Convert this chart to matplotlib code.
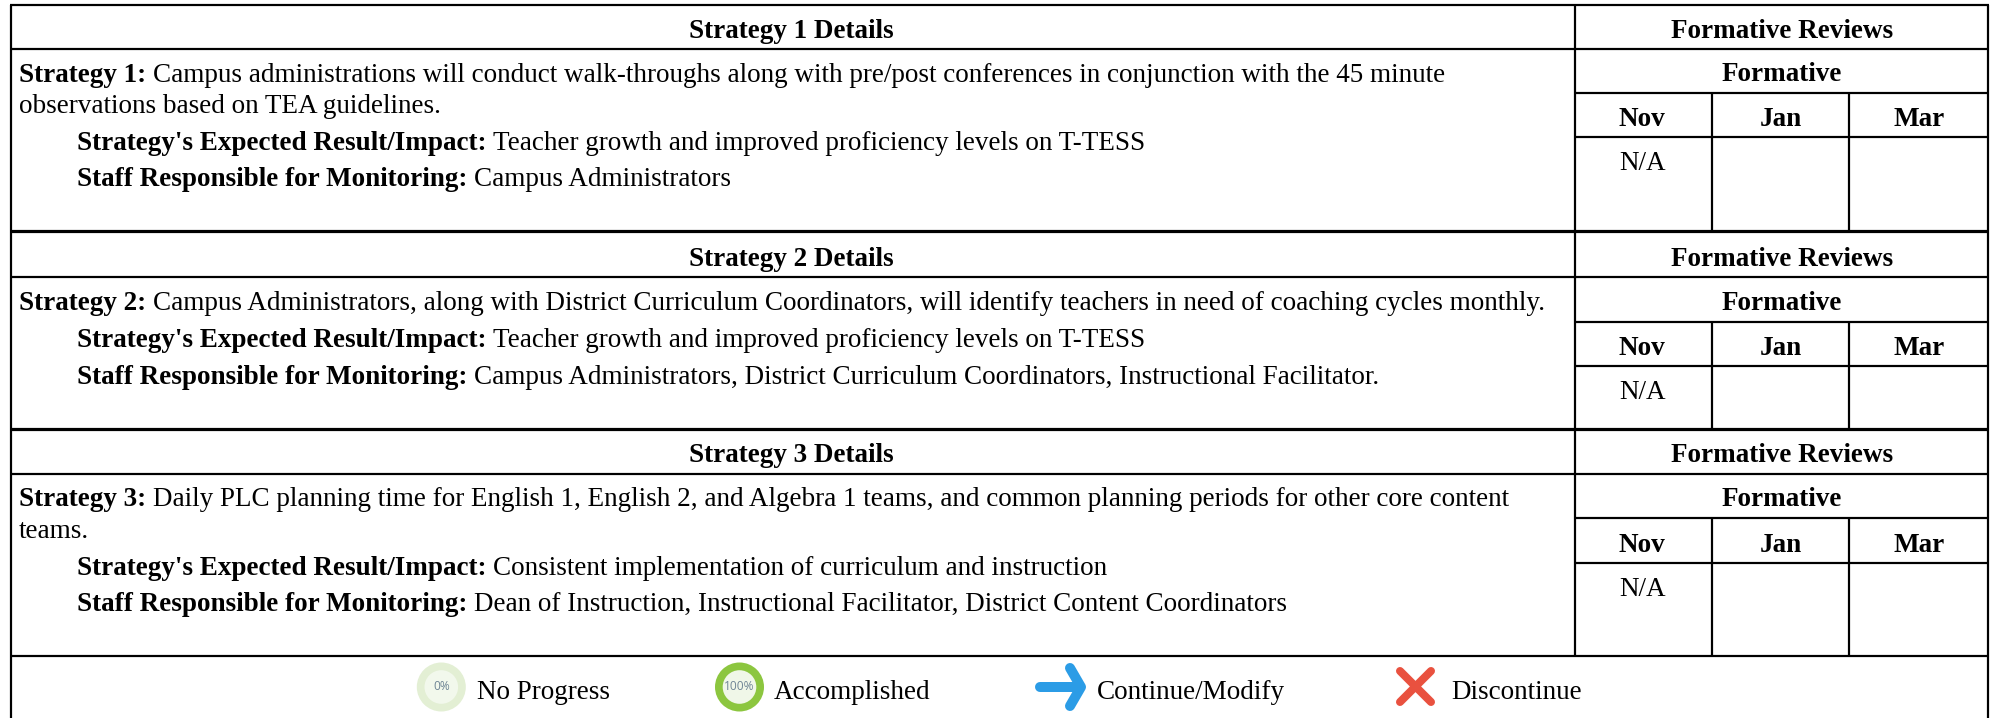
import matplotlib
matplotlib.use("Agg")
import matplotlib.pyplot as plt
from matplotlib.patches import Circle

W, H = 1993, 718
DPI = 100
FONT = "Liberation Serif"
FS = 19.5

# ---- content ----
review_months = ["Nov", "Jan", "Mar"]
review_values = ["N/A", "", ""]
strategy_titles = ["Strategy 1 Details", "Strategy 2 Details", "Strategy 3 Details"]
review_title = "Formative Reviews"
sub_title = "Formative"
strategy_labels = ["Strategy 1:", "Strategy 2:", "Strategy 3:"]
strategy_first_lines = [
    "Campus administrations will conduct walk-throughs along with pre/post conferences in conjunction with the 45 minute",
    "Campus Administrators, along with District Curriculum Coordinators, will identify teachers in need of coaching cycles monthly.",
    "Daily PLC planning time for English 1, English 2, and Algebra 1 teams, and common planning periods for other core content",
]
strategy_second_lines = ["observations based on TEA guidelines.", "", "teams."]
impact_label = "Strategy's Expected Result/Impact:"
impact_values = [
    "Teacher growth and improved proficiency levels on T-TESS",
    "Teacher growth and improved proficiency levels on T-TESS",
    "Consistent implementation of curriculum and instruction",
]
staff_label = "Staff Responsible for Monitoring:"
staff_values = [
    "Campus Administrators",
    "Campus Administrators, District Curriculum Coordinators, Instructional Facilitator.",
    "Dean of Instruction, Instructional Facilitator, District Content Coordinators",
]
legend_labels = ["No Progress", "Accomplished", "Continue/Modify", "Discontinue"]

# ---- layout (pixels) ----
X_LEFT, X_SPLIT, X_NOV, X_JAN, X_RIGHT = 11.3, 1575, 1712, 1849, 1988.3
Y_TOP = 4.7
block_rows = [(4.7, 49.3, 92.8, 137.3, 231.3), (231.3, 277.3, 321.7, 366.2, 428.7), (428.7, 474, 518.2, 563, 655.8)]
X_TEXT, X_INDENT, X_NA = 19, 76.7, 1619
TEXT_SHIFT = 0.8

fig = plt.figure(figsize=(W / DPI, H / DPI), dpi=DPI, facecolor="white")
ax = fig.add_axes([0, 0, 1, 1])
ax.set_xlim(0, W)
ax.set_ylim(H, 0)
ax.axis("off")
renderer = fig.canvas.get_renderer()


def px(w):
    return w * 72 / DPI


def hline(y, x0, x1, w=2.2):
    ax.plot([x0, x1], [y, y], color="black", lw=px(w), solid_capstyle="butt")


def vline(x, y0, y1, w=2.2):
    ax.plot([x, x], [y0, y1], color="black", lw=px(w), solid_capstyle="butt")


def txt(x, y, s, bold=False, ha="left"):
    return ax.text(x, y + TEXT_SHIFT, s, family=FONT, fontsize=FS, color="black",
                   weight="bold" if bold else "normal", ha=ha, va="baseline")


def mixed(x, y, label, value):
    t = txt(x, y, label, bold=True)
    x1 = t.get_window_extent(renderer).x1
    txt(x1 + 6.5, y, value)


xc_left = (X_LEFT + X_SPLIT) / 2 - 2
xc_right = (X_SPLIT + X_RIGHT) / 2
month_edges = [X_SPLIT, X_NOV, X_JAN, X_RIGHT]

for i, (y0, y1, y2, y3, y4) in enumerate(block_rows):
    hline(y1, X_LEFT, X_RIGHT)
    hline(y2, X_SPLIT, X_RIGHT)
    hline(y3, X_SPLIT, X_RIGHT)
    hline(y4, X_LEFT, X_RIGHT, w=3.2 if i < 2 else 2.2)
    vline(X_SPLIT, y0, y4)
    vline(X_NOV, y2, y4)
    vline(X_JAN, y2, y4)
    txt(xc_left, y1 - 12.6, strategy_titles[i], bold=True, ha="center")
    txt(xc_right, y1 - 12.6, review_title, bold=True, ha="center")
    txt(xc_right, y2 - 12.6, sub_title, bold=True, ha="center")
    for j, m in enumerate(review_months):
        if j == 0:
            txt(X_NA, y3 - 12, m, bold=True)
        else:
            txt((month_edges[j] + month_edges[j + 1]) / 2, y3 - 12, m, bold=True, ha="center")
        if review_values[j]:
            txt(X_NA, y3 + 32, review_values[j])

    mixed(X_TEXT, y1 + 31.5, strategy_labels[i], strategy_first_lines[i])
    if strategy_second_lines[i]:
        txt(X_TEXT, y1 + 63, strategy_second_lines[i])
        mixed(X_INDENT, y1 + 100, impact_label, impact_values[i])
        mixed(X_INDENT, y1 + 136.3, staff_label, staff_values[i])
    else:
        mixed(X_INDENT, y1 + 68.4, impact_label, impact_values[i])
        mixed(X_INDENT, y1 + 105.4, staff_label, staff_values[i])

# outer frame (open at the bottom, as cropped)
hline(Y_TOP, X_LEFT - 1, X_RIGHT + 1)
vline(X_LEFT, Y_TOP, H)
vline(X_RIGHT, Y_TOP, H)

# ---- legend ----
Y_LEG = 687
for x, label in zip((477, 774, 1097, 1451), legend_labels):
    txt(x, 698.5, label)


def donut(x, ring, inner, s):
    ax.add_patch(Circle((x, Y_LEG), 24.5, fc=ring, ec="none"))
    ax.add_patch(Circle((x, Y_LEG), 16.8, fc=inner, ec="none"))
    ax.text(x, Y_LEG, s, family="Open Sans", fontsize=8.6, color="#6f8595",
            ha="center", va="center")


donut(441.3, "#e3efd4", "#f2f8ec", "0%")
donut(739.5, "#8cc63f", "#f0f7e8", "100%")

BLUE, RED = "#2b9ce6", "#e9513f"
ax.plot([1040, 1080], [Y_LEG, Y_LEG], color=BLUE, lw=px(10), solid_capstyle="round")
ax.plot([1070, 1081, 1070], [668, Y_LEG, 706], color=BLUE, lw=px(10),
        solid_capstyle="round", solid_joinstyle="round")
ax.plot([1400, 1431], [671, 702], color=RED, lw=px(8), solid_capstyle="round")
ax.plot([1400, 1431], [702, 671], color=RED, lw=px(8), solid_capstyle="round")

fig.savefig("out.png", dpi=DPI, facecolor="white")
